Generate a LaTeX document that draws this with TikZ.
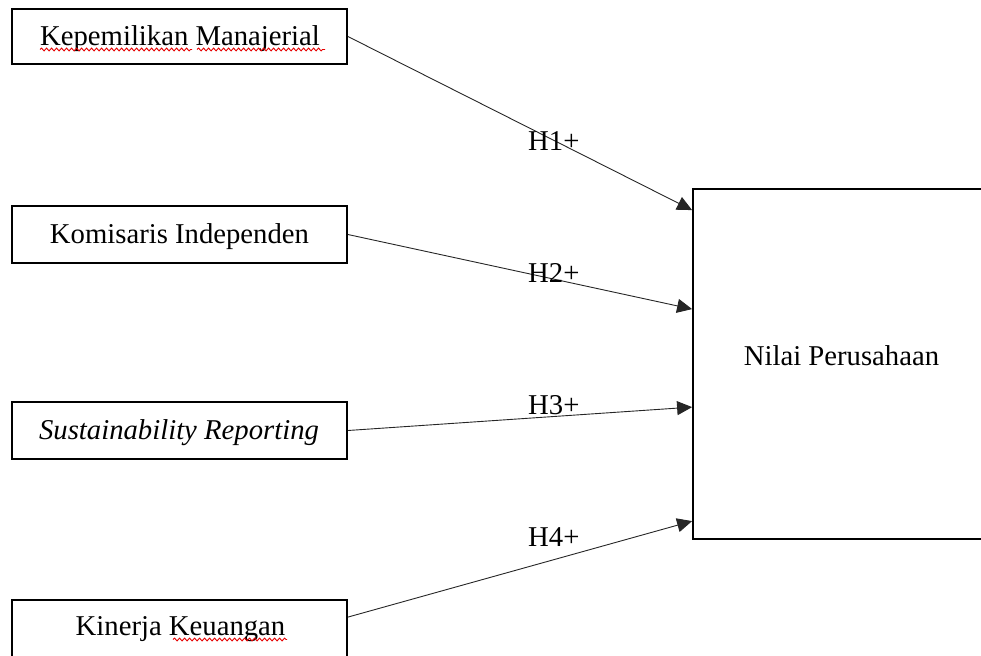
\documentclass[tikz,border=0pt]{standalone}
\usepackage{fontspec}
\setmainfont{Liberation Serif}
\usetikzlibrary{arrows.meta,decorations.pathmorphing,calc}
\begin{document}
\begin{tikzpicture}[x=1pt,y=-1pt,
  box/.style={draw,line width=1.8pt,inner sep=0pt},
  txt/.style={anchor=base,inner sep=0pt,font=\fontsize{28.7}{34}\selectfont},
  arr/.style={draw=black!85,line width=0.9pt,-{Triangle[length=15pt,width=14pt]}},
  squig/.style={draw=red!90!black,line width=0.9pt,decorate,decoration={snake,amplitude=1.4pt,segment length=5pt}}]
\clip (0,0) rectangle (981,655);
% left boxes
\node[box,minimum width=335pt,minimum height=55pt] (b1) at (179.5,36.5) {};
\node[box,minimum width=335pt,minimum height=57pt] (b2) at (179.5,234.5) {};
\node[box,minimum width=335pt,minimum height=57pt] (b3) at (179.5,430.5) {};
\node[box,minimum width=335pt,minimum height=57pt] (b4) at (179.5,628.5) {};
% right box
\node[box,minimum width=308pt,minimum height=350pt] (R) at (847,364) {};
% texts
\node[txt] (t1) at (180,46) {Kepemilikan Manajerial};
\node[txt] (t2) at (179.5,243) {Komisaris Independen};
\node[txt] (t3) at (179,439) {\itshape Sustainability Reporting};
\node[txt] (t4) at (180.5,635) {Kinerja Keuangan};
\node[txt] (t5) at (841.5,365) {Nilai Perusahaan};
% spelling underlines
\draw[squig] (40,49.5) -- (192,49.5);
\draw[squig] (197,49.5) -- (325,49.5);
\draw[squig] (173,639.5) -- (287,639.5);
% arrows
\draw[arr] (b1.east) -- ($(R.north west)+(0,22)$);
\draw[arr] (b2.east) -- ($(R.north west)+(0,121)$);
\draw[arr] (b3.east) -- ($(R.north west)+(0,219)$);
\draw[arr] ($(b4.north east)+(0,18)$) -- ($(R.north west)+(0,333)$);
% labels
\node[txt,anchor=base west] (h1) at (528,150) {H1+};
\node[txt,anchor=base west] (h2) at (528,282) {H2+};
\node[txt,anchor=base west] (h3) at (528,414) {H3+};
\node[txt,anchor=base west] (h4) at (528,546) {H4+};
\end{tikzpicture}
\end{document}
